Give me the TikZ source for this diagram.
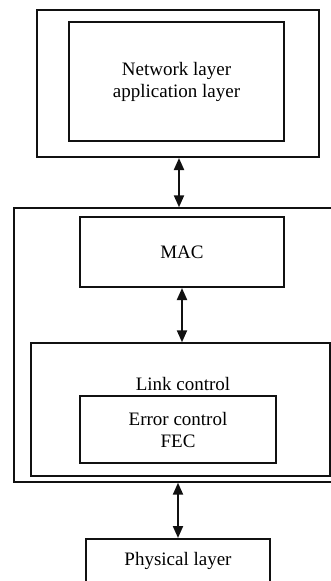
\documentclass[tikz,border=0pt]{standalone}
\usepackage{fontspec}
\setmainfont{Liberation Serif}
\usepackage{tikz}
\usetikzlibrary{positioning,calc,arrows.meta}
\definecolor{Edge}{HTML}{111111}

\tikzset{
	layerbox/.style={
		draw=Edge,
		line width=2pt,
		align=center,
		font=\fontsize{19}{22}\selectfont
	},
	thinbox/.style={
		draw=Edge,
		line width=1.4pt
	},
	link/.style={
		draw=Edge,
		line width=2pt,
		{Triangle[width=10pt,length=12pt]}-{Triangle[width=10pt,length=12pt]}
	}
}

\begin{document}
\begin{tikzpicture}[x=1pt,y=-1pt]
			\useasboundingbox (0,0) rectangle (331,581);
			\clip (0,0) rectangle (331,581);
			
			% upper stack
			\node[
			layerbox,
			minimum width=282pt,
			minimum height=147pt
			] (upper) at (178,83.5) {};
			\node[
			layerbox,
			minimum width=215pt,
			minimum height=119pt
			] (net) at (176.5,81.5) {Network layer\\application layer};
			
			% data link stack
			\node[
			thinbox,
			minimum width=331pt,
			minimum height=274pt
			] (dll) at (179.5,345) {};
			\node[
			layerbox,
			minimum width=204pt,
			minimum height=70pt
			] (mac) at (182,252) {MAC};
			\node[
			thinbox,
			minimum width=299pt,
			minimum height=133pt
			] (lc) at (180.5,409.5) {};
			\node[font=\fontsize{19}{22}\selectfont] (lclabel) at (183,384) {Link control};
			\node[
			layerbox,
			minimum width=196pt,
			minimum height=67pt
			] (fec) at (178,429.5) {Error control\\FEC};
			
			% physical layer
			\node[
			layerbox,
			anchor=north,
			minimum width=184pt,
			text height=13pt,
			text depth=40pt,
			inner ysep=13pt
			] (phy) at (178,538) {Physical layer};
			
			% connectors
			\coordinate (up) at ($(upper.south)+(1,0)$);
			\draw[link] (up) -- (up |- dll.north);
			\draw[link] (mac.south) -- (mac.south |- lc.north);
			\draw[link] (dll.south -| phy.north) -- (phy.north);
		\end{tikzpicture}
\end{document}
